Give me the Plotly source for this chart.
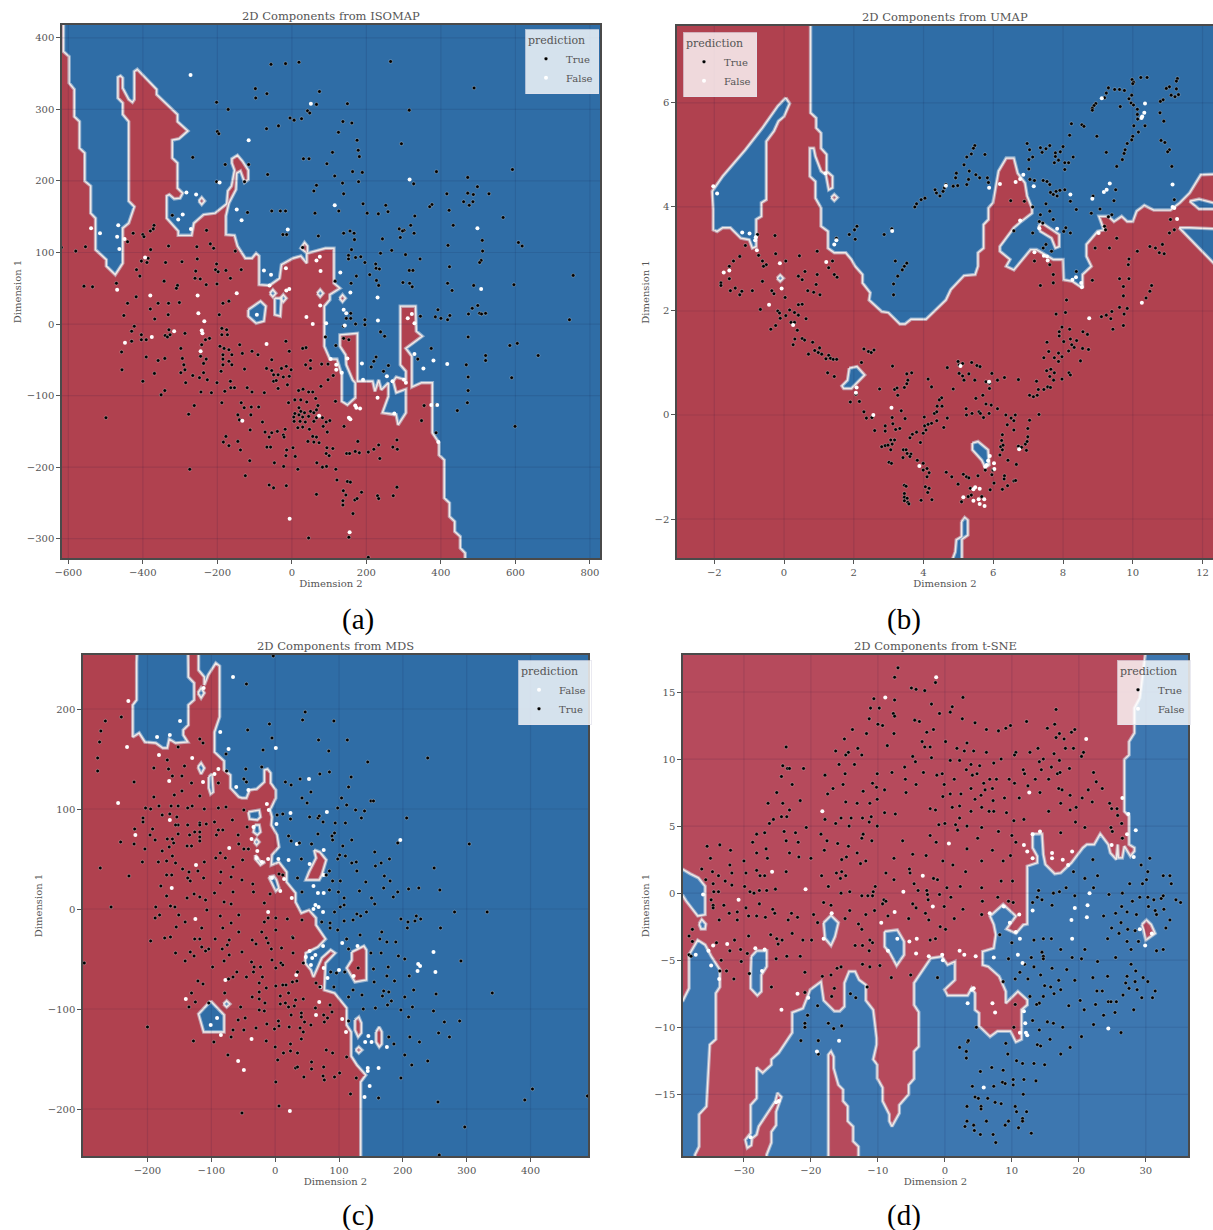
import plotly.graph_objects as go

W, H = 1213, 1230
RED_ABC, BLUE_ABC = "#B0414F", "#2F6DA6"
RED_D, BLUE_D = "#B64A5C", "#3D77B0"
EDGE = "#F2EAE6"
GLOW = "rgba(205,215,230,0.6)"

# ---------- Panel (a) ISOMAP ----------
A_RED = [-613,450,-613,381,-598,374,-598,337,-584,328,-584,290,-570,283,-570,246,-556,239,-556,200,-540,193,-540,155,-527,148,-527,104,-498,90,-498,81,-474,69,-454,85,-454,134,-438,141,-423,164,-438,172,-438,283,-454,293,-454,309,-467,316,-467,345,-460,347,-454,344,-454,330,-438,314,-428,310,-423,314,-423,353,-415,356,-363,328,-363,321,-307,293,-307,283,-279,270,-303,259,-321,257,-321,232,-307,225,-307,190,-293,183,-300,176,-316,175,-329,181,-336,179,-336,148,-305,130,-305,124,-269,124,-263,141,-237,153,-206,155,-175,168,-172,186,-162,193,-154,215,-161,225,-161,231,-146,236,-133,228,-117,215,-117,202,-127,198,-138,214,-148,211,-150,188,-169,169,-177,151,-177,125,-154,124,-146,109,-125,92,-107,92,-96,99,-88,95,-88,55,-60,54,-33,64,-28,83,3,92,24,95,40,85,40,99,24,106,34,114,42,109,42,99,90,106,113,106,113,57,129,50,102,41,102,34,87,25,87,-31,102,-49,121,-49,134,-71,134,-108,149,-113,170,-103,170,-82,163,-78,146,-57,144,-43,129,-31,129,-15,176,-13,176,-80,217,-80,223,-94,233,-78,240,-92,259,-82,259,-101,243,-124,280,-127,285,-141,306,-124,306,-91,280,-96,272,-80,280,-74,306,-78,306,-66,291,-57,291,25,332,25,334,-10,350,-17,306,-34,322,-45,322,-88,348,-82,377,-82,377,-152,395,-166,395,-183,409,-190,409,-243,423,-250,423,-269,437,-276,437,-290,452,-297,452,-313,465,-320,465,-360,-700,-360,-700,450]
A_BLUE_ISLANDS = [[-117,20,-84,32,-70,25,-75,4,-96,1,-117,11],[-46,36,-28,36,-31,11,-46,13],[-59,43,-51,48,-43,43,-51,38],[68,43,76,48,84,43,76,38],[-31,36,-23,41,-15,36,-23,31]]
A_RED_ISLANDS = [[-250,172,-242,177,-234,172,-242,167],[128,36,136,41,144,36,136,31]]
A_TRUE = [-56,363,-17,364,19,366,265,367,489,330,-98,329,-97,316,-67,322,74,325,-202,310,-171,300,66,307,149,308,315,299,42,298,48,295,-5,288,6,285,26,287,137,283,161,281,-68,273,-36,277,-200,269,-196,266,125,268,175,257,294,252,178,243,109,240,181,234,-266,233,31,231,46,231,94,224,-179,223,-116,223,163,213,189,212,388,213,592,216,-65,209,115,207,472,205,-202,199,-127,199,136,197,179,199,327,196,66,194,59,186,498,192,139,182,416,182,472,183,487,181,529,182,191,168,461,171,486,171,476,166,252,166,376,167,370,164,-119,156,-54,158,-31,158,-17,158,62,155,126,158,202,155,232,154,258,157,422,159,330,151,567,149,-321,152,433,138,288,133,301,131,297,130,319,138,328,127,139,127,156,130,167,127,-229,131,-370,138,-372,133,-380,130,-426,127,-400,125,-397,122,-24,125,-14,125,71,123,168,118,243,119,291,121,511,117,608,114,618,109,419,110,-331,109,-255,108,-219,112,-210,106,-441,115,-554,108,-580,102,-619,107,-379,104,-152,102,29,107,160,104,268,103,238,99,512,102,305,97,152,96,152,91,171,93,185,94,344,91,-254,91,-386,92,-404,88,-389,86,-339,86,-295,87,196,86,225,84,508,89,504,86,-202,84,226,78,235,77,423,80,-417,76,-258,74,-205,76,-198,73,-177,75,-136,76,315,75,325,75,-408,67,-260,64,-246,63,-165,64,209,69,173,67,755,68,-343,60,-471,57,-558,53,-535,52,-307,54,-310,50,-230,55,-201,56,159,57,116,60,227,61,298,58,316,57,323,52,418,57,596,55,233,54,488,54,430,47,-418,38,
 -441,29,-359,29,-331,29,-302,30,-185,29,-169,32,-451,12,-380,21,-332,13,-368,7,-423,-3,-430,-10,-430,-24,-404,-15,-404,-22,-391,-22,-340,-16,-334,-18,-330,-8,-327,-15,-287,-13,-457,-39,-391,-46,-359,-51,-341,-48,-456,-64,-369,-69,-400,-80,-341,-93,-351,-99,-499,-131,-274,-203,-277,-126,-262,-114,-244,-95,-216,-96,-266,-72,-285,-82,-298,-34,-294,-48,-290,-57,-298,-68,-287,-64,-248,-75,-237,-68,-227,-78,-201,-82,-180,-94,-188,-110,-164,-89,-154,-89,-165,-80,-242,-29,-232,-22,-221,-20,-245,-45,-230,-49,-237,-55,-195,13,-188,-6,-175,-8,-188,-15,-173,-15,-193,-31,-182,-34,-169,-36,-185,-43,-161,-43,-185,-49,-169,-52,-185,-57,-190,-66,-161,-57,-140,-29,-133,-41,-107,-38,-127,-63,-91,-43,-54,-50,-68,-62,-54,-65,-28,-62,-15,-59,-2,-64,-49,-71,-37,-71,-23,-74,-7,-73,-49,-80,-42,-79,-12,-85,-37,-90,-74,-96,-107,-95,-120,-89,-136,-110,-128,-117,-109,-116,-89,-116,-110,-127,-145,-127,-141,-134,-79,-137,-112,-148,-72,-151,-61,-158,-54,-152,-39,-150,-18,-147,-23,-155,-21,-158,-177,-157,-184,-165,-169,-170,-145,-164,-138,-176,-113,-191,-67,-172,-57,-172,-14,-176,3,-173,-16,-184,9,-185,-47,-194,-22,-199,16,-203,-125,-212,-61,-225,-49,-229,-15,-226,45,-299,66,-238,67,-194,82,-200,93,-199,118,-203,121,-218,149,-220,157,-221,138,-233,145,-239,137,-247,137,-253,169,-246,175,-244,187,-235,164,-265,153,-298,205,-326,230,-240,233,-244,272,-240,282,-228,
 -7,-38,38,-33,29,-34,-16,-24,37,-57,50,-51,50,-62,80,-56,97,-56,111,-72,97,-78,78,-87,45,-95,56,-95,18,-93,30,-91,-9,-110,8,-106,24,-106,40,-109,64,-104,117,-108,70,-114,19,-117,24,-122,50,-122,66,-120,59,-124,8,-125,19,-127,34,-124,5,-130,29,-130,45,-129,66,-131,82,-131,102,-135,6,-136,22,-136,36,-137,59,-136,92,-137,16,-145,29,-144,47,-147,84,-143,95,-151,140,-143,56,-157,66,-158,43,-164,59,-165,73,-166,94,-173,110,-174,92,-181,100,-184,147,-181,155,-181,177,-164,170,-178,181,-180,205,-179,220,-175,233,-169,236,-188,271,-172,282,-162,283,-175,
 118,-30,139,-20,153,-22,90,-18,139,-3,146,8,158,8,158,15,196,6,196,-1,171,0,238,-11,249,-17,226,-46,220,-52,213,-60,259,-58,246,-66,345,11,385,10,400,8,418,6,424,12,392,20,474,14,484,22,499,26,504,15,509,14,520,15,473,-18,374,-34,338,-49,468,-57,473,-74,473,-93,471,-110,444,-121,520,-44,520,-51,585,-30,605,-27,661,-44,590,-75,599,-143,745,6,348,-135,355,-114,387,-113,387,-152]
A_FALSE = [-272,348,51,308,-116,257,-194,198,316,202,-283,184,-257,181,115,166,-148,160,-293,153,-305,146,-135,145,-271,133,-11,132,498,134,-539,134,-466,138,-515,127,-469,122,-449,119,-463,105,-394,93,-16,78,77,74,-75,75,-56,69,130,72,66,89,75,94,-60,54,-469,48,508,49,-15,47,-7,49,-380,40,-253,40,-148,43,157,44,230,37,-251,15,-235,4,-376,-18,-316,-10,-448,-26,-242,-9,-240,-13,-245,-38,-94,13,76,26,39,10,56,0,92,1,139,20,146,15,142,-2,231,5,311,8,322,14,329,1,-68,-28,119,-57,119,-64,134,-68,149,-48,104,-49,188,-55,329,-42,380,-51,417,-56,353,-62,255,-73,301,-78,306,-82,270,-80,191,-78,374,-113,390,-113,393,-165,230,-103,170,-114,173,-117,183,-118,153,-131,157,-133,73,-128,-133,-135,-6,-272,155,-291,275,-125]

# ---------- Panel (b) UMAP ----------
B_BLUE = [.76,8,.76,5.81,.92,5.71,.92,5.52,1.06,5.42,1.06,5.13,1.22,5.01,1.22,4.69,1.39,4.59,1.39,4.37,1.28,4.33,1.2,4.62,1.06,4.69,.9,4.97,.85,5.13,.74,5.13,.74,4.59,.9,4.49,.9,4.17,1.06,3.98,1.06,3.63,1.26,3.53,1.26,3.21,1.44,3.12,1.77,3.12,1.93,2.99,2.04,2.86,2.25,2.7,2.25,2.54,2.47,2.35,2.44,2.21,2.8,1.99,2.99,1.97,3.32,1.75,3.47,1.75,3.64,1.84,4.07,1.84,4.64,2.21,4.78,2.41,5.16,2.68,5.48,2.7,5.56,2.86,5.56,3.12,5.72,3.21,5.72,3.66,5.86,3.76,5.86,3.98,5.99,4.08,6.15,4.69,6.37,4.94,6.59,4.94,6.7,4.65,6.91,4.46,6.97,4.21,7.11,3.98,7.11,3.88,6.8,3.72,6.59,3.6,6.19,3.24,6.19,3.15,6.48,2.99,6.37,2.86,6.59,2.79,7.07,3.18,7.24,3.18,7.72,2.99,8.0,2.99,8.02,2.6,8.27,2.57,8.56,2.44,8.56,2.7,8.81,2.86,8.67,3.05,8.67,3.28,8.99,3.53,9.17,3.56,9.03,3.82,9.3,3.82,9.46,3.72,9.68,3.82,9.84,3.72,10.0,3.72,10.11,3.92,10.33,4.03,10.6,3.94,11.08,3.94,11.35,4.08,11.63,4.27,11.95,4.62,13,4.65,13,8]
B_BLUE_ISLANDS = [[11.63,4.11,11.9,4.15,13,3.96,11.9,3.96],[11.33,3.6,11.63,3.6,13,3.56,13,2.45],[.05,6.1,.16,5.99,0,5.74,-.16,5.65,-.29,5.46,-.51,5.26,-.51,4.14,-.65,4.08,-.65,3.82,-.8,3.76,-.8,3.24,-.91,3.21,-1,3.37,-1.24,3.4,-1.54,3.6,-1.76,3.6,-1.92,3.53,-2.03,3.56,-2.03,3.95,-2.06,4.3,-1.76,4.59,-1.11,5.1,-.62,5.52,-.18,5.94],[-.2,2.63,-.11,2.69,-.02,2.63,-.11,2.57],[1.87,.9,2.09,.93,2.31,.77,1.93,.51,1.71,.51,1.66,.56,1.82,.67],[5.4,-.54,5.56,-.51,5.85,-.67,5.88,-.96,5.77,-1.01,5.67,-.87,5.4,-.67],[5.09,-2.05,5.18,-1.97,5.27,-2.02,5.27,-2.31,5.1,-2.39,5.1,-3.2,4.6,-3.2,4.91,-2.63,4.94,-2.4,5.09,-2.34]]
B_RED_ISLANDS = [[7.29,3.63,7.4,3.69,7.89,3.47,7.89,3.24,7.78,3.21,7.67,3.4,7.35,3.53],[1.35,4.18,1.44,4.24,1.53,4.18,1.44,4.12]]
B_TRUE = [10.23,6.49,10.41,6.49,9.98,6.45,10.02,6.4,10,6.37,9.3,6.29,9.48,6.26,9.62,6.26,9.76,6.24,9.24,6.19,9.19,6.1,9.97,6.15,9.89,6.08,9.95,6,10.02,5.96,9.64,5.93,8.94,5.99,8.89,5.95,8.84,5.9,8.84,5.86,11.28,6.47,11.25,6.42,11.05,6.31,10.96,6.28,11.25,6.27,11.31,6.16,11.1,6.15,11.21,6.12,10.87,6.06,10.79,6.03,10.78,5.81,10.89,5.65,10.13,5.88,10.13,5.78,10.14,5.69,10.35,5.56,10.03,5.56,10.16,5.44,10,5.36,9.97,5.29,9.84,5.22,9.78,5.1,9.75,5.03,9.7,4.91,9.54,4.78,9.24,5.05,8.97,5.36,8.24,5.6,8.54,5.58,8.6,5.55,8.19,5.38,10.81,5.28,10.92,5.24,11.05,5.1,11,5.06,11.12,4.78,
 6.97,5.22,7.04,5.1,7.13,4.96,7.02,4.91,7.35,5.14,7.4,5.05,7.62,5.18,7.51,5.12,8,5.16,7.78,5.04,7.92,5.06,7.78,4.97,7.87,4.9,7.75,4.85,8.05,4.85,8.16,4.85,8.29,4.96,8.05,4.72,7.02,4.73,7.05,4.53,7.18,4.51,7.43,4.51,7.54,4.49,7.62,4.43,7.64,4.28,7.72,4.24,7.83,4.21,7.8,4.3,7.91,4.32,8.21,4.11,8.38,3.95,8.05,4.33,7.51,4.06,7.13,4,6.89,4.11,6.5,4.12,7.62,3.92,7.35,3.85,7.32,3.72,7.42,3.69,7.72,3.76,7.13,3.5,6.59,3.54,8.08,3.6,8.21,3.5,8.02,3.53,7.51,3.28,7.43,3.21,7.67,3.15,7.18,2.96,7.62,2.89,7.72,2.7,7.72,2.54,7.35,2.49,8.38,2.76,
 8.81,3.88,9.06,3.96,9.4,3.85,9.3,3.81,8.86,4.21,9.46,4.12,9.51,4.33,9.19,3.63,9.22,3.56,9.54,3.4,9.33,3.21,8.92,3.21,9.89,3,10.13,3.15,10.49,3.24,10.65,3.21,10.85,3.28,10.76,3.12,10.9,3.1,11.05,3.5,11.19,3.56,11.08,3.76,11.19,4.14,9.62,2.62,9.87,2.89,9.89,2.62,9.73,2.47,10.54,2.49,10.49,2.38,8.84,2.59,9.73,2.29,10.38,2.25,
 5.47,5.18,5.43,5.13,5.76,5.01,5.37,5.02,5.24,4.96,5.16,4.81,4.94,4.65,4.92,4.56,5.31,4.69,5.5,4.62,5.61,4.56,5.83,4.56,5.86,4.47,5.29,4.53,5.24,4.43,4.85,4.4,4.98,4.41,4.64,4.43,4.6,4.37,4.56,4.3,4.33,4.33,4.37,4.27,4.47,4.21,4.04,4.17,3.93,4.14,3.8,4.06,3.75,4,2.09,3.63,2.02,3.56,1.87,3.47,2.04,3.38,1.5,3.4,2.87,3.47,3.09,3.58,3.19,2.96,3.52,2.92,3.45,2.86,3.39,2.79,3.26,2.67,3.14,2.52,3.14,2.31,
 -.76,3.47,-.26,3.45,-1.11,3.26,-.24,3.1,-.73,3.07,-1.27,3.05,-1.45,2.96,-.62,2.96,-.51,2.89,-.59,2.86,-1.57,2.86,-1.57,2.62,-1.81,2.54,-1.81,2.49,-1.4,2.44,-1.54,2.39,-1.21,2.38,-1.27,2.31,-.62,2.57,-.91,2.39,-.35,2.39,-.29,2.33,.05,2.96,.44,3.06,.41,2.67,.52,2.6,.6,2.76,.95,3.15,.92,2.51,.95,2.7,.68,2.39,.85,2.36,1.03,2.31,1.28,2.83,1.39,2.96,1.44,2.7,1.52,2.65,.03,2.26,
 -.68,2.03,-.18,2,-.13,1.96,-.11,1.86,.05,1.91,.16,2.02,.3,1.97,.41,1.92,.63,1.85,.2,1.78,.3,1.78,.38,1.63,-.24,1.72,-.38,1.65,.41,2.12,.52,2.13,.31,1.46,.52,1.47,.59,1.44,.26,1.35,.82,1.4,1.02,1.29,.88,1.24,.98,1.2,.7,1.17,1.08,1.17,1.28,1.15,1.2,1.08,1.33,1.09,1.41,1.07,1.51,1.07,2.29,1.27,2.42,1.22,2.5,1.2,2.58,1.25,2.22,1.01,1.25,.81,1.44,.74,3.11,.94,2.74,.5,3.17,.49,3.24,.52,3.45,.53,3.26,.38,3.52,.79,3.66,.81,3.55,.67,3.52,.6,4.13,.69,4.23,.54,4.68,.91,4.99,1.03,5.02,.96,5.12,.99,5.38,1.01,5.53,.95,5.62,.93,5.02,.8,5.12,.75,5.3,.79,5.16,.67,5.47,.67,5.96,.8,6.12,.67,5.79,.64,5.89,.61,5.89,.51,6.32,.72,6.72,.68,4.85,.5,4.52,.33,4.45,.29,5.5,.32,5.7,.38,5.79,.21,5.94,.19,6.12,.12,4.39,.17,4.53,.17,4.31,.03,4.38,.06,5.22,.12,5.23,0,5.39,.03,5.59,.06,5.63,.03,5.88,.03,5.72,-.05,6.36,0,6.51,-.06,6.63,0,6.59,-.11,6.4,-.19,6.59,-.29,7.04,-.1,7.31,.01,6.99,-.26,7.04,.38,7.15,.35,7.26,.38,7.29,.49,7.24,.65,7.45,.49,7.56,.54,7.64,.53,7.62,.74,7.73,.67,7.53,.85,7.65,.88,7.75,.81,7.45,1.1,7.59,1.22,7.75,1.1,7.87,1.03,7.87,1.19,7.97,1.12,7.54,1.4,7.8,1.94,8.07,1.97,7.97,1.69,7.89,1.6,7.89,1.52,8.19,1.65,8.02,1.41,8.21,1.46,8.25,1.35,8.39,1.43,8.32,1.3,8.16,1.23,8.57,1.6,8.7,1.55,8.56,1.28,8.73,1.26,8.5,1.04,8.17,.81,8.21,.77,7.97,.69,9.1,1.89,9.24,1.92,9.37,1.85,9.43,1.65,9.4,1.99,9.62,2.07,9.75,1.94,9.73,1.72,9.84,2.05,8.1,2.21,
 1.9,.25,2.06,.4,2.16,.26,2.29,.06,2.36,-.06,2.52,-.05,2.6,-.3,2.9,-.21,2.9,-.31,3.1,-.05,3.12,-.17,3.2,-.28,3.32,-.26,3.36,.08,3.47,-.07,3.68,-.37,3.8,-.33,3.61,-.44,4.02,-.04,4.03,-.21,4.13,-.18,4.23,-.16,4.07,-.29,3.99,-.35,3.91,-.53,4.68,-.06,4.58,-.24,4.38,-.11,2.8,-.61,2.9,-.59,2.98,-.58,3.06,-.48,3.17,-.48,3.06,-.67,3.1,-.56,3.42,-.67,3.5,-.67,3.53,-.74,3.64,-.75,3.41,-.82,3.61,-.8,3.01,-.91,3.08,-.93,3.82,-.87,3.99,-.93,4.1,-1.03,3.99,-1.06,4.16,-1.11,4.1,-1.19,4.65,-1.1,4.81,-1.19,5.14,-1.14,5.23,-1.19,5.3,-1.21,5.56,-1.17,4.99,-1.33,3.45,-1.35,3.5,-1.37,3.45,-1.51,3.45,-1.58,3.53,-1.6,3.45,-1.65,3.55,-1.68,3.58,-1.71,4.05,-1.38,4.16,-1.41,4.12,-1.49,3.93,-1.64,4.24,-1.63,5.34,-1.41,5.28,-1.57,5.37,-1.54,5.09,-1.67,5.67,-1.57,5.91,-1.44,6.02,-1.31,6.26,-1.43,6.41,-1.36,6.32,-1.17,6.31,-1.23,6.59,-1.27,6.64,-1.26,5.77,-1.06,5.96,-1.15,5.99,-1.06,6.66,-.95,6.42,-.87,6.19,-.77,6.26,-.67,6.21,-.61,6.28,-.58,6.24,-.49,6.26,-.38,6.72,-.6,6.81,-.62,6.95,-.68,6.92,-.56,6.97,-.51,6.99,-.42]
B_FALSE = [-2.03,4.4,-1.92,4.26,-1.2,3.51,-.99,3.49,-.81,3.42,-.83,3.36,-.78,3.17,-1.73,2.74,-1.57,2.78,-.12,2.92,-.07,2.43,1.21,2.94,1.44,3.28,1.5,3.36,1.19,4.65,3.1,3.54,4.64,4.41,5.88,4.37,6.19,4.44,6.64,4.48,6.77,4.54,6.86,4.62,7.16,4.4,6.77,3.74,7.32,3.59,7.18,3.13,7.45,3.06,7.54,3.05,7.56,2.97,7.83,3.58,8.21,4.24,8.84,4.16,9.17,4.29,9.25,4.33,9.34,4.45,9.02,3.5,9.11,6.09,10.35,5.99,10.33,5.81,10.27,5.74,10.25,5.71,11.14,4.43,11.14,4,11.19,3.98,11.27,3.77,8.27,2.6,8.37,2.65,8.52,2.54,8.54,2.46,-.43,2.12,.26,1.73,8.75,1.86,10.26,2.16,2.08,.53,2.06,.43,3.08,.14,2.56,0,5.06,.94,5.88,.64,6.74,-.66,3.88,-.98,5.9,-.79,5.85,-.88,6.02,-.93,5.81,-.96,5.77,-.99,6.03,-1.04,5.48,-1.39,5.43,-1.43,5.61,-1.42,5.14,-1.58,5.43,-1.65,5.58,-1.62,5.74,-1.62,5.61,-1.71,5.75,-1.75]

# ---------- Panel (c) MDS ----------
C_RED = [-214,290,-217,247,-217,209,-223,204,-223,172,-213,176,-204,167,-187,166,-176,161,-169,161,-166,170,-156,166,-137,167,-144,174,-144,179,-136,184,-136,204,-127,209,-127,226,-136,232,-137,290,-120,290,-120,239,-111,232,-111,224,-105,234,-93,246,-87,243,-87,192,-95,177,-95,157,-80,148,-80,139,-70,134,-70,121,-57,112,-52,111,-45,111,-40,119,-29,120,-17,127,-17,139,-12,140,-7,136,-7,126,1,119,1,111,-8,99,-5,92,-6,84,3,74,6,62,-5,54,-6,44,6,47,18,37,18,27,32,16,32,7,41,-4,53,-1,64,-9,64,-16,79,-30,67,-38,48,-44,47,-54,56,-61,60,-68,67,-58,73,-49,87,-41,94,-44,79,-54,77,-81,93,-84,112,-99,112,-116,119,-123,119,-147,128,-156,142,-166,134,-173,134,-290,-340,-290,-340,290]
C_BLUE_ISLANDS = [[-121,216,-116,221,-111,216,-116,211],[-121,142,-116,146,-111,141,-116,135],[-104,132,-99,135,-97,117,-101,115,-104,121],[-42,97,-25,99,-23,92,-28,89,-40,90],[-32,84,-25,84,-23,77,-28,74,-34,77],[-33,67,-29,70,-25,67,-29,64],[-31,54,-23,47,-16,47,-23,44,-31,50],[-10,32,-2,33,2,29,6,21,1,18,-5,26],[-101,-92,-120,-105,-112,-123,-80,-123,-80,-106],[-81,-95,-76,-92,-71,-95,-76,-98]]
C_RED_ISLANDS = [[61,59,70,57,80,49,73,34,69,29,48,29,53,37,64,51],[120,-43,139,-37,143,-41,143,-71,125,-73,112,-59,120,-51],[125,-111,131,-108,135,-114,135,-124,130,-128,125,-121],[158,-123,163,-118,167,-123,167,-135,163,-138,158,-133],[126,-141,131,-138,136,-141,131,-144]]
C_TRUE = [-3,253,-45,225,47,197,43,189,92,188,-9,185,-266,188,-241,192,-273,178,-43,179,-5,171,68,169,113,169,-275,167,-152,162,-118,170,-113,166,-19,159,84,158,-77,155,-278,151,239,151,-169,149,145,147,-190,141,-167,140,-142,143,-278,138,-46,140,-21,142,-76,138,85,137,70,135,-161,133,-146,133,39,130,119,132,-49,130,-45,127,16,127,25,124,-221,127,-131,126,-89,126,115,122,56,117,-146,118,-158,114,-190,112,-118,113,42,111,104,111,150,108,154,108,50,106,112,104,-203,101,-195,100,-182,103,-163,103,-152,103,-137,101,-130,103,-111,100,-89,101,-77,102,-49,99,98,101,126,99,140,98,3,94,12,95,24,90,54,92,67,91,69,93,135,91,206,91,-177,94,-165,95,-207,91,-207,87,-154,92,-152,84,-156,84,-137,84,-118,86,-108,85,-118,84,-95,87,-67,89,75,87,94,86,110,86,-220,80,-192,80,-126,77,-89,79,-82,79,-44,82,21,73,67,75,93,76,89,73,-196,74,-152,75,-134,74,-118,77,-118,72,-118,68,-188,69,-169,70,-161,70,-92,74,-58,74,25,68,38,66,90,69,120,69,-242,67,-159,66,-221,65,-166,62,-138,63,-131,63,-57,65,57,65,106,63,192,66,304,65,-204,60,-177,58,-49,60,-42,60,156,57,-86,56,-93,51,-161,53,-170,48,-208,47,-183,47,-156,46,-111,47,-78,51,-51,49,41,50,101,54,110,53,98,50,179,50,157,43,166,46,127,47,120,46,249,41,-274,41,-229,33,-145,40,-135,37,-121,38,-85,37,-66,42,-170,34,-162,34,-137,31,-112,31,-179,23,-133,28,-86,26,-69,32,-52,29,-35,25,6,35,12,34,35,31,85,38,80,34,90,28,102,28,128,38,142,27,171,33,180,28,170,21,209,20,225,21,258,19,132,18,85,19,99,17,192,17,185,12,-170,13,-127,15,-118,12,-95,16,-66,17,-34,17,-8,15,42,17,151,11,108,11,-138,11,-109,9,-80,7,-17,6,-257,2,-187,2,-164,3,-157,2,-107,-1,-69,5,108,4,156,5,102,2,281,-3,332,-3,143,-3,93,-3,128,-5,134,-7,197,-10,221,-7,228,-10,-188,-9,-151,-6,-181,-6,-86,-7,-57,-6,-11,-9,1,-9,-141,-13,19,-10,42,-11,108,-12,122,-11,208,-13,219,-12,73,-13,86,-14,-69,-14,-17,-13,
 -155,-18,-115,-19,-82,-19,-57,-23,-21,-23,1,-21,27,-28,86,-19,98,-21,133,-26,167,-23,207,-19,259,-19,-195,-32,-173,-29,-164,-28,-126,-30,-118,-30,-94,-30,-72,-31,-36,-31,-14,-29,-11,-34,28,-29,112,-30,164,-30,175,-33,189,-33,-115,-38,-104,-40,-83,-40,-75,-36,-30,-35,-6,-40,10,-39,115,-40,150,-44,166,-44,-156,-44,-133,-43,-109,-42,-72,-46,-52,-43,28,-44,193,-47,203,-50,291,-52,-299,-54,-141,-52,-127,-47,-80,-52,-37,-53,-5,-51,9,-54,44,-54,-98,-58,-33,-58,-23,-58,12,-56,-60,-63,-34,-63,1,-59,130,-59,177,-58,154,-60,87,-63,96,-64,109,-63,-66,-68,-45,-68,-20,-68,35,-63,175,-67,210,-67,-121,-72,-113,-75,-73,-70,-25,-74,34,-72,27,-73,155,-73,187,-72,1,-77,12,-76,17,-76,64,-74,70,-78,92,-78,-14,-79,21,-84,217,-81,170,-82,178,-83,122,-81,-131,-84,-79,-84,-25,-83,168,-87,136,-86,252,-85,340,-84,203,-88,115,-88,-36,-88,8,-87,-25,-90,44,-90,32,-91,182,-92,-125,-93,-104,-94,-16,-94,8,-95,16,-94,30,-97,86,-96,176,-96,-135,-98,-54,-98,21,-98,215,-98,-25,-101,63,-99,-17,-102,138,-100,157,-99,197,-101,248,-102,41,-104,89,-103,25,-106,41,-108,76,-106,82,-109,209,-108,-13,-115,-47,-109,-58,-111,5,-112,77,-113,289,-112,265,-113,46,-113,56,-116,6,-117,-30,-119,-49,-121,-66,-121,-1,-120,22,-118,39,-119,44,-123,115,-112,256,-124,273,-128,-69,-128,-128,-132,-96,-133,41,-130,-14,-132,211,-128,226,-133,178,-128,186,-135,24,-135,0,-138,80,-141,24,-142,13,-144,35,-144,90,-144,-74,-146,112,-148,203,-146,4,-151,239,-152,57,-153,214,-156,76,-158,32,-159,35,-158,57,-160,101,-164,45,-168,75,-167,93,-168,77,-171,127,-169,197,-169,1,-173,118,-185,162,-189,403,-180,391,-191,489,-187,255,-193,6,-197,-52,-204,297,-218,257,-246,-200,-118]
C_FALSE = [-230,208,-66,232,-112,221,-149,188,-86,177,-185,172,-165,174,-73,160,1,161,-232,162,-182,154,-130,151,-89,140,-95,135,-166,128,-113,127,53,130,-61,122,-42,119,-246,106,-13,105,-10,99,81,97,24,96,-165,89,2,85,-34,82,-219,74,-37,70,196,69,34,65,-72,61,-28,58,76,59,-29,51,-21,47,-11,50,5,50,21,49,54,45,-124,44,76,34,-5,31,14,30,60,23,-162,21,8,18,67,16,76,16,26,11,63,4,68,2,60,0,75,-3,-11,-3,-125,-10,105,-34,129,-37,75,-37,54,-42,63,-46,58,-49,48,-48,56,-56,248,-43,224,-55,227,-57,223,-62,251,-63,76,-59,100,-61,82,-69,123,-67,33,-66,-78,-71,71,-78,-140,-90,69,-93,64,-106,105,-110,111,-123,146,-127,141,-133,151,-133,175,-138,-85,-126,-91,-109,-101,-116,-37,-130,-58,-152,-49,-161,145,-159,162,-159,145,-162,148,-177,140,-188,23,-202]

# ---------- Panel (d) t-SNE ----------
D_RED = [30.5,20,29.1,14.55,28.3,13.8,28.3,11.94,27.5,11.3,27.5,10.3,26.8,9.96,26.8,6.1,27.5,5.74,27.5,3.63,28.3,3.38,28.3,3.13,27.7,2.76,26.8,3.5,26.5,2.63,25.9,2.63,25.8,3.63,25.6,2.51,24.7,3.0,24.4,3.63,23.2,4.42,22.3,3.63,21.2,3.63,20.6,3.38,18.9,2.26,17.3,1.51,16.4,1.44,15,2.14,14.7,2.88,14.5,4.42,13.1,4.42,13.1,3.38,13.8,2.76,13.8,2.26,12.3,2.01,12.3,-2.3,11.7,-2.37,10.6,-3,9.2,-2.67,10.6,-1.71,8.7,-.84,6.75,-1.71,7.3,-2.33,7.6,-3.1,7.3,-4.1,5.64,-4.35,5.64,-5.35,6.47,-5.47,8.1,-6.2,9.1,-7.33,9.1,-8.2,10.9,-7.33,12.3,-7.96,12.3,-8.33,11.45,-8.7,11.45,-10.9,10.6,-11.1,9.8,-10.3,7.85,-10.3,6.75,-10.7,5.1,-9.9,5.1,-8.95,4.5,-8.7,4.5,-7.46,4,-7.1,3.4,-7.63,.4,-7.63,-.05,-7.2,1.5,-6.47,1.5,-5.1,.4,-5.35,-.44,-4.73,-2.1,-4.85,-2.9,-5.47,-4.6,-6.7,-4.6,-8.33,-3.9,-8.87,-3.9,-11.43,-4.6,-11.8,-4.6,-13.84,-5.4,-14.3,-5.4,-15,-6.8,-15.8,-6.8,-16.4,-7.9,-17.4,-8.3,-17,-8.3,-16.5,-9.3,-15.5,-9.3,-14.5,-10.1,-13.8,-10.1,-12.8,-10.7,-12.4,-10.2,-11.3,-10.2,-10.8,-10.7,-8.7,-11.8,-8,-11.8,-6.84,-12.8,-6.47,-13.4,-5.84,-14.3,-5.84,-15,-6.7,-15,-8.45,-15.7,-8.8,-16.5,-8.8,-18.1,-8,-18.5,-6.6,-20.1,-7.2,-21.2,-8.6,-22.8,-8.9,-22.8,-10.4,-24.8,-11.9,-25.9,-12.4,-25.9,-12.8,-27.2,-13.4,-28.1,-13,-28.1,-15.3,-29,-15.8,-29,-17.9,-29.8,-18.4,-29.5,-19,-28.9,-18.8,-28.8,-18.3,-28.1,-18,-27.8,-17.4,-25.3,-15.5,-25,-14.9,-24.4,-15.2,-25.2,-16.3,-25.2,-17.3,-25.9,-17.8,-25.9,-18.6,-26.6,-19.5,-26.6,-22,-37.3,-22,-37.3,-19.5,-36.7,-18.9,-36.7,-16.5,-35.6,-15.9,-35.1,-11.3,-34.2,-10.9,-34.2,-7.46,-33.6,-7,-33.6,-5.7,-34.9,-4.7,-35.8,-3.85,-36.9,-3.5,-37.5,-4,-38.2,-4.6,-38.2,-7.1,-39.1,-8,-42,-8,-42,-.2,-39.1,-.2,-38.6,-.6,-36.9,-1.7,-35.8,-1.6,-35.8,.52,-36.8,1.14,-38,1.44,-39.1,1.76,-42,1.76,-42,20]
D_BLUE_ISLANDS = [[-18.1,-2.2,-17,-1.66,-15.9,-2.2,-16.4,-3.24,-17,-3.9,-17.9,-3.36],[-36.7,-2.3,-36.3,-1.96,-35.7,-2.3,-35.8,-2.67,-36.4,-2.67],[-9,-2.86,-7.1,-2.74,-6.1,-3.6,-6.1,-4.6,-7.2,-5.4,-8.2,-4.48,-9,-3.98],[-28.9,-4.73,-28.1,-4.3,-26.6,-4.3,-26.6,-5.47,-27.4,-6.1,-27.4,-7.33,-28,-7.63,-29,-7.1,-29,-6.1]]
D_RED_ISLANDS = [[-17.4,-22,-17.4,-12.05,-17,-11.8,-16.6,-12.2,-16.6,-13.05,-15.9,-14.3,-15.2,-14.65,-15.2,-15.5,-14.5,-15.9,-14.5,-17,-13.7,-17.4,-13.7,-18.5,-12.9,-18.9,-12.9,-22],[29.4,-2.33,30.1,-2,30.8,-2.33,31.4,-3,30,-3.5,29.7,-2.75]]
D_TRUE = [-7,16.8,-7.5,16.1,-1.4,15.7,-5,15.3,-4.3,15.2,-3,15.1,2.7,14.6,-7.5,14.4,-10.6,14.5,-2,14.1,-11.1,13.8,-9.8,13.8,-7.7,13.4,-7.5,13.2,-.8,13.4,.8,13.5,1.1,13.9,-11.3,13,-4.5,12.9,-3.8,12.8,2.6,13,4.5,12.7,12.2,12.8,16.6,13.7,16.4,12.6,-10,12.6,-9.3,12.5,9.8,12.5,9.1,12.3,6.2,12.2,8,12.1,15.3,12.3,-13.8,12.2,-1.7,12.2,-2.7,12,19.4,12.2,18.9,12,-11.7,11.9,-7.6,11.9,17.1,11.9,-15,11.5,16.6,11.6,17.8,11.5,-3.4,11.3,.1,11.3,3.3,11.2,-8.6,11,-23.7,10.9,-13,10.8,-3,10.9,-2.2,10.9,1.8,10.8,13.9,10.8,18,10.8,19.2,10.8,2.9,10.6,4.3,10.6,-16.3,10.6,-14.4,10.5,-14.8,10.3,-12.4,10.3,6.2,10.5,10.6,10.5,10.4,10.3,12.7,10.5,16.3,10.4,20.7,10.5,20.4,10.2,-4.8,10.2,-2,10.1,8.4,10,14.7,10,14.1,9.8,-4.4,9.8,.8,9.9,2.2,9.9,7.3,9.7,17.1,9.9,-15.8,9.6,-13.5,9.6,-24.2,9.5,-6,9.4,3.9,9.6,5.2,9.5,15.9,9.4,-23.5,9.3,-23.2,9.3,-21.1,9.3,11.7,9.2,14.4,9.2,3.2,9.2,18.6,9.3,-7.9,9,-3.2,9,-14.9,8.9,22.2,9,-10.1,8.9,11.9,8.9,16.8,8.9,17.2,9,-1.2,8.8,-.4,8.9,4.1,8.8,4.8,8.9,-17.9,8.8,-24.4,8.7,1.4,8.5,-5.9,8.5,9.6,8.5,13.5,8.5,15.5,8.5,6.7,8.5,7.7,8.5,-10.8,8.2,10.4,8.2,22.6,8.3,-22.8,8.1,-15.2,8.1,-4.3,8.1,-.1,8.1,5.8,8.2,12.4,8,-10.2,7.9,3.9,7.8,7.1,7.8,23.5,7.8,17,7.8,-16.7,7.8,-9,7.7,-12.2,7.6,6,7.7,17.5,7.7,21.4,7.7,-25.1,7.5,-5.8,7.5,.8,7.4,2.4,7.4,14.2,7.5,5.4,7.3,18.7,7.3,-17.5,7.4,-.3,7.2,8.9,7.1,11.1,7.1,-10.1,7,4.5,7,20.5,7.1,-21.6,6.9,7.2,6.9,-26.4,6.7,-24.2,6.7,-14.8,6.8,-13.1,6.7,-11.2,6.7,17.3,6.7,22,6.8,24.6,6.7,2.2,6.5,1.1,6.4,5.5,6.4,19.6,6.4,25.7,6.3,-23.2,6.2,-2.2,6.3,-1.4,6.2,3.9,6.1,6.6,6.1,7.3,6.1,15.5,6.1,18.7,6.2,24.9,6.3,-9,6,-7.4,5.9,9.2,6,-24.4,5.7,-23.6,5.7,-17.9,5.5,25.8,5.8,-15.5,5.6,-14,5.6,-12.3,5.6,-11,5.7,-11.3,5.3,2.2,5.6,-25.6,5.5,-26.2,5.2,-16.3,5.2,10.3,5.4,11.8,5.5,19.5,5.3,0,5.2,-.9,5.1,1.6,5.1,-14.3,5,-10.1,5,3.3,5,26.4,5.2,-20.7,4.9,24.8,4.9,20.9,4.9,5.5,4.9,1.9,4.7,8,4.6,-24,4.6,25,4.6,-28.1,4.4,-26.9,4.5,-22.3,4.5,-18.5,4.4,-12.2,4.4,10,4.3,-12.4,4.1,-2.2,4.3,4.9,4.1,17.3,4.5,26.5,4.1,-28.7,3.8,-23.7,3.9,-21.9,3.8,-17.6,3.9,-10.9,3.9,-6.3,3.9,-1.3,3.8,10.6,3.8,-35.5,3.5,-33.6,3.6,-16,3.7,-14.4,3.5,-32,3.2,-26.7,3.3,-18,3.2,3.3,3.3,7.1,3.2,-28.1,3,-23.2,3,-13.1,3,-4.8,2.9,9.8,2.8,-2.8,2.8,-35,2.6,-26.5,2.6,-21.8,2.7,-14.7,2.7,-7.6,2.6,-20,2.6,-30,2.4,-15.4,2.5,-11.8,2.4,-.3,2.4,5.5,2.4,8.7,2.4,-32.1,2.1,1.2,2.1,-12.6,2.2,-36.3,1.8,-28.1,1.7,-23.7,1.6,-5.3,1.8,-34.7,1.6,-31.8,1.5,-29.7,1.5,-16.2,1.5,-15.4,1.6,-8.8,1.5,-5.2,1.5,3.1,1.6,-27.6,1.3,-26.9,1.3,-33.8,1.3,-18.4,1.3,-14.8,1.3,-7.6,1,-1.7,1.1,-1.1,1,-35.7,1,-32.8,.9,-15.6,1.1,8.4,.9,10.1,.9,-34.6,.7,-31.8,.6,-29.9,.5,-17.4,.5,-10.4,.5,-4.6,.7,2.3,.5,.3,.4,5.5,.4,
 -25.3,.3,-27.7,.2,-26.6,.2,-14.2,.1,-10.7,.1,-4,.2,-2.7,.2,-34.5,.1,-33.8,.1,-29.1,.1,-15.5,0,-28.5,0,-2.6,-.1,-12.4,-.2,-11.5,-.2,-10.8,-.2,14,.2,16.2,0,17.1,.1,18.1,.4,19.4,-.2,22.2,.4,27.6,.7,29.5,.7,30.1,1,32.6,1.3,33.6,1.3,33.8,.7,22.8,1.3,20.9,1.1,19.2,1.6,29.3,2.1,30.6,2.6,22.1,2.5,30.3,1.6,24.5,-.1,26.5,0,30.3,-.3,31.2,-.5,32.3,-.4,32.6,-.2,29.1,-.3,28,-.6,34.5,-.5,35.2,-.7,13.8,-.3,14.5,-.5,13.1,-.7,16,-.9,25.5,-1.5,26.4,-1,30.4,-1,31.4,-1.3,32.7,-1.2,27.2,-1.4,31.6,-1.6,23.7,-1.7,28.6,-1.6,33.6,-2,26.3,-2.2,
 -34.9,-.5,-34.6,-.9,-33,-.9,-34.6,-1.1,-29.7,-1.1,-27.7,-.8,-25.7,-1.2,-25.4,-1.5,-32.2,-1.5,-31,-1.4,-29.3,-1.7,-28.1,-1.7,-26.8,-1.8,-22.9,-1.5,-22,-1.8,-19.6,-1.6,-23.4,-2,-33.7,-2,-31,-2,-19,-2.2,-18.1,-.7,-17,-.9,-14.2,-1.3,-10.5,-1.3,-9.1,-.5,-8.8,-.6,-9.3,-.8,-4.8,-.8,-4.3,-1.1,-2.9,-1.5,-2.5,-.5,-.8,-.1,-.1,-1,.9,-.3,2.7,-1.2,1.4,-1.9,5.6,-.6,5.5,-1.6,7.9,-.3,9.5,-.6,10.2,-.7,-8.5,-1.7,-5.4,-1.9,-2.4,-2,-11.8,-1.6,-14.9,-1.9,-12.9,-2.3,
 -37.7,-2.7,-38.2,-3.2,-37.7,-3.6,-34.1,-3.7,-31.4,-3.5,-29.3,-3.2,-26,-3.1,-25.1,-3.4,-24.3,-3.5,-24.9,-3.8,-22.8,-3,-21.2,-3.5,-19.9,-3.5,-32.1,-4.3,-30.5,-4.2,-38.2,-4.6,-37.9,-4.7,-29.5,-4.5,-33.4,-5,-30.4,-5.1,-25.2,-4.9,-23.6,-4.7,-21.6,-4.7,-13.4,-3.9,-12.3,-3.9,-11.2,-3.5,-10.8,-3.7,-11.3,-4.3,-12.4,-2.7,-2.2,-3.5,-1.4,-3.4,-.7,-2.5,.1,-2.7,-33.6,-5.8,-32.6,-5.8,-31.5,-6.4,-29.2,-6,-20.9,-5.9,-18.3,-6.2,-17,-6.1,-16.1,-5.6,-15.5,-5.5,-12.3,-5.3,-11.2,-5.5,-9.7,-5.4,-8,-6.3,-5.1,-6.1,-1.1,-6.3,-25.9,-7,-16.5,-7.1,-16.9,-7.7,-11.6,-7,-14.1,-7.5,-13.3,-7.8,-20.9,-7.4,-19,-8.4,-20.5,-9.1,-20.9,-9.7,-20.9,-10,-17.4,-9.7,-16.6,-10.1,-15.4,-9.9,-21.5,-11,-18.9,-11,-18.9,-12,
 8.2,-3.1,10,-3.7,13.3,-3.5,14.7,-3.4,15.9,-3.4,17.3,-4.2,14.5,-4.4,14.7,-4.7,14.7,-4.9,12.9,-4.8,19,-4.8,20.4,-4.9,20.9,-4.2,9.5,-4.9,24.3,-3.4,24.9,-2.6,26,-3,27.3,-2.7,28.4,-2.8,27.2,-3.6,28.9,-3.6,27.8,-4.2,31.6,-4.3,32.6,-4.2,33,-2.6,25.5,-4.8,22.8,-5.1,27.8,-5.3,11.9,-5.3,13.3,-5.5,11.2,-5.9,14.3,-6.1,16,-5.6,18.2,-5.7,10.5,-6.4,12.4,-6.4,17,-6.5,19.4,-6.5,22.1,-6.3,24.3,-6.2,27.2,-6.2,28.5,-5.8,29.6,-6.3,30.3,-6.6,27,-6.7,28.4,-6.6,8.7,-6.6,14.9,-6.9,15.8,-7,17.3,-7.2,22.7,-7.3,23.5,-7.3,27.5,-7.1,28.7,-7.2,31.4,-7.3,16.3,-7.5,14.7,-7.7,12.7,-7.7,26.6,-7.6,29.4,-7.8,31,-7.8,14.1,-8.2,13.7,-8.3,10.5,-8.3,20.2,-8,18.5,-8.4,22.5,-8.3,24.4,-8.1,24.8,-8.1,25.6,-8.1,20.8,-8.7,28.2,-8.7,25.4,-8.9,23.7,-9.1,13.1,-9.5,15.3,-9.6,16.2,-9.7,17.6,-10,22.2,-9.8,26.3,-10.4,20.4,-10.7,14.1,-10.2,10.3,-10,4.7,-10,15.7,-10.9,9.1,-11.2,13.8,-11.3,14.3,-11.4,3.4,-11.1,3.5,-11,2.2,-11.5,18.7,-11.5,3.2,-11.8,17.3,-12,9.4,-12,3.2,-12.3,10.7,-12.5,11.6,-12.7,13.3,-12.7,14.9,-12.8,7,-13,8.7,-13.2,5.3,-13.3,10.2,-13.9,11.8,-13.9,13.6,-14,8.6,-14.1,9,-14.2,10.2,-14.3,4.1,-14.4,7.3,-14.4,11.7,-15,4.5,-15.2,5,-15.3,6.4,-15.3,7.5,-15.6,8.4,-15.7,3.3,-15.9,5.4,-15.9,5.4,-16.1,10.5,-15.9,10.7,-16.3,12.2,-16.3,6.2,-17,11.6,-16.8,11.6,-17,3.3,-17,9.5,-17,4.3,-17.3,9,-17.3,3,-17.4,11,-17.5,4.4,-17.7,5.3,-18,7.2,-18,12.9,-17.9,7.6,-18.6]
D_FALSE = [-1.3,16.1,-8.9,14.6,21.1,11.5,12.6,7.5,26.5,7.1,-18.3,6.1,27.4,5.9,28.5,4.7,14.2,4.6,13.1,4.4,27.2,4.4,.6,3.7,24.9,3.6,11.8,3.6,12.3,3.1,16,3,16,2.6,19,3.1,28.2,2.7,17.6,2.5,13.1,2.6,18.4,2.1,-25.8,1.6,-3.3,1.3,-20.8,.3,-6.2,.1,21.6,0,-36.1,-.1,-30.8,-.5,21.3,-.9,19.4,-1.1,-1.8,-1,-7.5,-1.4,-16.9,-1.5,6.7,-1.5,8.8,-1,11.1,-1.6,13.1,-1.3,21.2,-1.8,18.9,-2,-9.5,-2.2,9.7,-2.2,10.6,-2.9,11.2,-3.4,-18.1,-3.4,-5.3,-3.6,-4.2,-3.4,19,-3.4,29.1,-2.7,29.9,-3.9,30.9,-3,-32.5,-3.8,-34.6,-3.9,-35.3,-4.3,-37.2,-4.6,-28.3,-4.1,-26.9,-4.2,-34.9,-5.4,-33.7,-6.4,-27.3,-5.8,-22,-7.5,-20.4,-7.8,-24.4,-8.7,-8.5,-4.3,-7.1,-3.4,-4.3,-4.5,-2.4,-4.7,-.4,-4.6,-.3,-5,2.2,-4.3,2.9,-4.6,4.6,-4.7,7.3,-4.8,10.9,-4.6,11.6,-5.2,4,-7.2,4.3,-7.1,3.4,-8.2,7.1,-8.2,7.5,-8.9,11.8,-8.8,12,-9.7,11.2,-10.4,12.1,-10.4,12.3,-10.6,24.4,-10.1,-15.8,-11,-19.1,-11.8,5.8,-14.5,-25.2,-15.6,-24.8,-15.5,-29,-18.2]

TITLES = ["2D Components from ISOMAP", "2D Components from UMAP", "2D Components from MDS", "2D Components from t-SNE"]
CAPTIONS = ["(a)", "(b)", "(c)", "(d)"]
LEGEND_ITEMS = ["True", "False"]
LEGEND_ITEMS_C = ["False", "True"]
XT = [[-600,-400,-200,0,200,400,600,800],[-2,0,2,4,6,8,10,12],[-200,-100,0,100,200,300,400],[-30,-20,-10,0,10,20,30]]
YT = [[-300,-200,-100,0,100,200,300,400],[-2,0,2,4,6],[-200,-100,0,100,200],[-15,-10,-5,0,5,10,15]]
XR = [[-617,827],[-3.07,12.3],[-301,490],[-39.1,36.3]]
YR = [[-327,418],[-2.75,7.48],[-247,254],[-19.6,17.76]]
BOX = [(62,600,25,558),(677,1213,26,558),(83,588,655,1156),(683,1188,655,1156)]
LEG = [(525,29),(683,32),(518,660),(1117,660)]
CAP = [(358,619),(904,619),(358,1215),(904,1215)]

def rings(polys):
    xs, ys = [], []
    for p in polys:
        px, py = list(p[::2]), list(p[1::2])
        xs += px + [px[0], None]
        ys += py + [py[0], None]
    return xs, ys

fig = go.Figure()
SERIF = "DejaVu Serif"
PANELS = [
    (RED_ABC, BLUE_ABC, BLUE_ABC, [(A_RED, "r"), (A_BLUE_ISLANDS, "b"), (A_RED_ISLANDS, "r")], A_TRUE, A_FALSE),
    (RED_ABC, BLUE_ABC, RED_ABC, [(B_BLUE, "b"), (B_BLUE_ISLANDS, "b"), (B_RED_ISLANDS, "r")], B_TRUE, B_FALSE),
    (RED_ABC, BLUE_ABC, BLUE_ABC, [(C_RED, "r"), (C_BLUE_ISLANDS, "b"), (C_RED_ISLANDS, "r")], C_TRUE, C_FALSE),
    (RED_D, BLUE_D, BLUE_D, [(D_RED, "r"), (D_BLUE_ISLANDS, "b"), (D_RED_ISLANDS, "r")], D_TRUE, D_FALSE),
]
layout = dict(width=W, height=H, margin=dict(l=0, r=0, t=0, b=0, autoexpand=False), paper_bgcolor="white",
              font=dict(family=SERIF, color="#555555"), showlegend=True, annotations=[])

for i, (red, blue, base, layers, true_pts, false_pts) in enumerate(PANELS):
    n = "" if i == 0 else str(i + 1)
    xa, ya = "x" + n, "y" + n
    for polys, c in layers:
        if polys and not isinstance(polys[0], list):
            polys = [polys]
        xs, ys = rings(polys)
        fig.add_trace(go.Scatter(x=xs, y=ys, mode="lines", fill="toself", fillcolor=red if c == "r" else blue,
                                 line=dict(color=GLOW, width=3.5), xaxis=xa, yaxis=ya, hoverinfo="skip", showlegend=False))
        fig.add_trace(go.Scatter(x=xs, y=ys, mode="lines", line=dict(color=EDGE, width=1.4), xaxis=xa, yaxis=ya,
                                 hoverinfo="skip", showlegend=False))
    # grid lines over the regions
    gx, gy = [], []
    for t in XT[i]:
        gx += [t, t, None]; gy += [YR[i][0], YR[i][1], None]
    for t in YT[i]:
        gx += [XR[i][0], XR[i][1], None]; gy += [t, t, None]
    fig.add_trace(go.Scatter(x=gx, y=gy, mode="lines", line=dict(color="rgba(20,20,60,0.11)", width=1.2),
                             xaxis=xa, yaxis=ya, hoverinfo="skip", showlegend=False))
    leg = "legend" + n
    order = LEGEND_ITEMS_C if i == 2 else LEGEND_ITEMS
    for name in order:
        pts = true_pts if name == "True" else false_pts
        fig.add_trace(go.Scatter(x=pts[::2], y=pts[1::2], mode="markers", name=name, legend=leg, xaxis=xa, yaxis=ya,
                                 marker=dict(color="black" if name == "True" else "white",
                                             size=3.6 if name == "True" else 4,
                                             line=dict(color="rgba(255,255,255,0.55)", width=0.5 if name == "True" else 0))))
    x0, x1, y0, y1 = BOX[i]
    layout["xaxis" + n] = dict(domain=[x0 / W, x1 / W], range=XR[i], tickvals=XT[i], showgrid=False, zeroline=False,
                               showline=True, mirror=True, linecolor="#4a4a4a", linewidth=1.5, ticks="outside", ticklen=4,
                               tickcolor="#555555", tickfont=dict(size=10, family=SERIF, color="#555555"),
                               title=dict(text="Dimension 2", font=dict(size=10, family=SERIF, color="#555555"), standoff=3),
                               anchor=ya)
    layout["yaxis" + n] = dict(domain=[1 - y1 / H, 1 - y0 / H], range=YR[i], tickvals=YT[i], showgrid=False, zeroline=False,
                               showline=True, mirror=True, linecolor="#4a4a4a", linewidth=1.5, ticks="outside", ticklen=4,
                               tickcolor="#555555", tickfont=dict(size=10, family=SERIF, color="#555555"),
                               title=dict(text="Dimension 1", font=dict(size=10, family=SERIF, color="#555555"), standoff=3),
                               anchor=xa)
    lx, ly = LEG[i]
    layout[leg] = dict(x=lx / W, y=1 - ly / H, xanchor="left", yanchor="top", bgcolor="rgba(255,255,255,0.8)",
                       bordercolor="rgba(225,225,235,0.7)", borderwidth=1, tracegroupgap=0, itemsizing="trace", itemwidth=30,
                       entrywidth=28, entrywidthmode="pixels",
                       font=dict(size=10, family=SERIF, color="#555555"),
                       title=dict(text="prediction", font=dict(size=11, family=SERIF, color="#555555")))
    layout["annotations"].append(dict(text=TITLES[i], xref="paper", yref="paper", x=(x0 + x1) / 2 / W, y=1 - y0 / H,
                                      xanchor="center", yanchor="bottom", showarrow=False,
                                      font=dict(size=11.5, family=SERIF, color="#555555")))
    cx, cy = CAP[i]
    layout["annotations"].append(dict(text=CAPTIONS[i], xref="paper", yref="paper", x=cx / W, y=1 - cy / H,
                                      xanchor="center", yanchor="middle", showarrow=False,
                                      font=dict(size=29, family="Liberation Serif", color="black")))
    layout.setdefault("_bases", []).append(base)

bases = layout.pop("_bases")
layout["shapes"] = []
fig.update_layout(**layout)
fig.update_layout(plot_bgcolor=BLUE_ABC)
for i, base in enumerate(bases):
    n = "" if i == 0 else str(i + 1)
    fig.add_shape(type="rect", xref=f"x{n} domain", yref=f"y{n} domain", x0=0, x1=1, y0=0, y1=1,
                  fillcolor=base, line_width=0, layer="below")
fig.write_html("out.html", config={"displayModeBar": False},
               post_script="document.body.style.margin='0';document.body.style.overflow='hidden';")
